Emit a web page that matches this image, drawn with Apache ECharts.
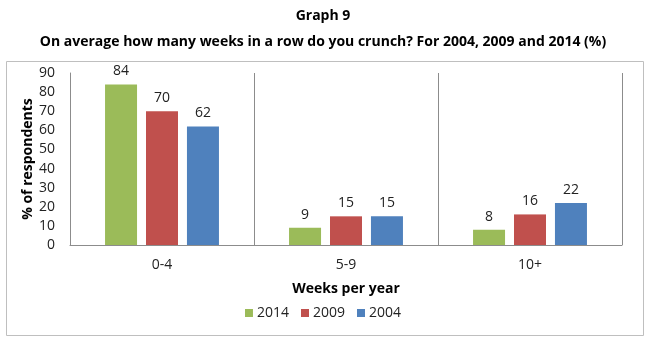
<!DOCTYPE html>
<html>
<head>
<meta charset="utf-8">
<script src="https://cdn.jsdelivr.net/npm/echarts@6/dist/echarts.min.js"></script>
<style>
  html, body { margin: 0; padding: 0; background: #fff; }
  #chart { width: 646px; height: 339px; }
</style>
</head>
<body>
<div id="chart"></div>
<script>
// Crunch duration survey: weeks in a row, by survey year
const categories = ['0-4', '5-9', '10+'];
const years = ['2014', '2009', '2004'];
const values2014 = [84, 9, 8];
const values2009 = [70, 15, 16];
const values2004 = [62, 15, 22];
const yTicks = [0, 10, 20, 30, 40, 50, 60, 70, 80, 90];

const colors = ['#9BBB59', '#C0504D', '#4F81BD'];
const font = 'Open Sans, Liberation Sans, sans-serif';
const seriesValues = [values2014, values2009, values2004];

const chart = echarts.init(document.getElementById('chart'));
chart.setOption({
  animation: false,
  textStyle: { fontFamily: font },
  title: [
    { text: 'Graph 9', left: 'center', top: 4,
      textStyle: { fontSize: 14, fontWeight: 'bold', color: '#000', fontFamily: font } },
    { text: 'On average how many weeks in a row do you crunch? For 2004, 2009 and 2014 (%)',
      left: 'center', top: 30,
      textStyle: { fontSize: 14, fontWeight: 'bold', color: '#000', fontFamily: font } }
  ],
  graphic: [{
    type: 'rect', left: 4, top: 59,
    shape: { width: 637, height: 274 },
    style: { fill: 'none', stroke: '#bfbfbf', lineWidth: 1 },
    silent: true, z: -1
  }],
  legend: {
    data: years, bottom: 14, left: 'center',
    itemWidth: 8, itemHeight: 8, itemGap: 12,
    icon: 'rect',
    textStyle: { fontSize: 14, color: '#222', fontFamily: font, padding: [0, 0, 0, -1] }
  },
  grid: { left: 70, right: 24, top: 73, bottom: 94 },
  xAxis: {
    type: 'category', data: categories,
    name: 'Weeks per year', nameLocation: 'middle', nameGap: 37, nameMoveOverlap: false,
    nameTextStyle: { fontSize: 14, fontWeight: 'bold', color: '#000', fontFamily: font },
    axisLine: { lineStyle: { color: '#8c8c8c' } },
    axisTick: { show: false },
    axisLabel: { fontSize: 14, color: '#222', margin: 13, fontFamily: font },
    splitLine: { show: true, lineStyle: { color: '#8c8c8c' } }
  },
  yAxis: {
    type: 'value', min: 0, max: 90, interval: 10,
    name: '% of respondents', nameLocation: 'middle', nameGap: 35, nameRotate: 90,
    nameMoveOverlap: false,
    nameTextStyle: { fontSize: 14, fontWeight: 'bold', color: '#000', fontFamily: font },
    axisLine: { show: true, lineStyle: { color: '#8c8c8c' } },
    axisTick: { show: false },
    splitLine: { show: false },
    axisLabel: {
      fontSize: 14, color: '#222', margin: 15, fontFamily: font,
      customValues: yTicks
    }
  },
  series: years.map((y, i) => ({
    name: y, type: 'bar', data: seriesValues[i],
    barWidth: 32, barGap: '28%',
    itemStyle: { color: colors[i] },
    label: { show: true, position: 'top', distance: 6, fontSize: 14, color: '#222', fontFamily: font }
  }))
});
</script>
</body>
</html>
